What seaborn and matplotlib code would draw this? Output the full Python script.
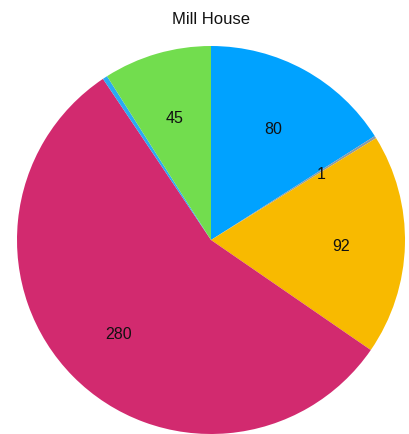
import matplotlib
matplotlib.use("Agg")
import matplotlib.pyplot as plt
import matplotlib.transforms as mtransforms
import seaborn as sns

title = "Mill House"
values = [80, 1, 92, 280, 2, 45]
labels = ["80", "1", "92", "280", "", "45"]
colors = ["#00A2FF", "#8C9AA6", "#F8BA00", "#D22A6F", "#2AAAF2", "#72DD4E"]

sns.set_theme(style="white")
plt.rcParams["font.family"] = ["Liberation Sans", "DejaVu Sans"]

fig = plt.figure(figsize=(4.09, 4.34), dpi=100)
ax = fig.add_axes([17 / 409, 0 / 434, 388 / 409, 388 / 434])

pal = sns.color_palette(colors)
wedges, texts = ax.pie(
    values,
    labels=labels,
    colors=pal,
    startangle=90,
    counterclock=False,
    labeldistance=0.67,
    wedgeprops=dict(linewidth=0),
    textprops=dict(fontsize=11.5, color="#111111", ha="center", va="center"),
)
shift = mtransforms.offset_copy(ax.transData, fig=fig, x=0, y=-3.5, units="dots")
for t in texts:
    t.set_horizontalalignment("center")
    t.set_verticalalignment("center")
    t.set_transform(shift)

ax.set_xlim(-1, 1)
ax.set_ylim(-1, 1)
ax.set_aspect("equal")
ax.axis("off")

fig.text(211 / 409, 1 - 20 / 434, title, ha="center", va="center", fontsize=12, color="#111111")

fig.savefig("out.png", dpi=100)
